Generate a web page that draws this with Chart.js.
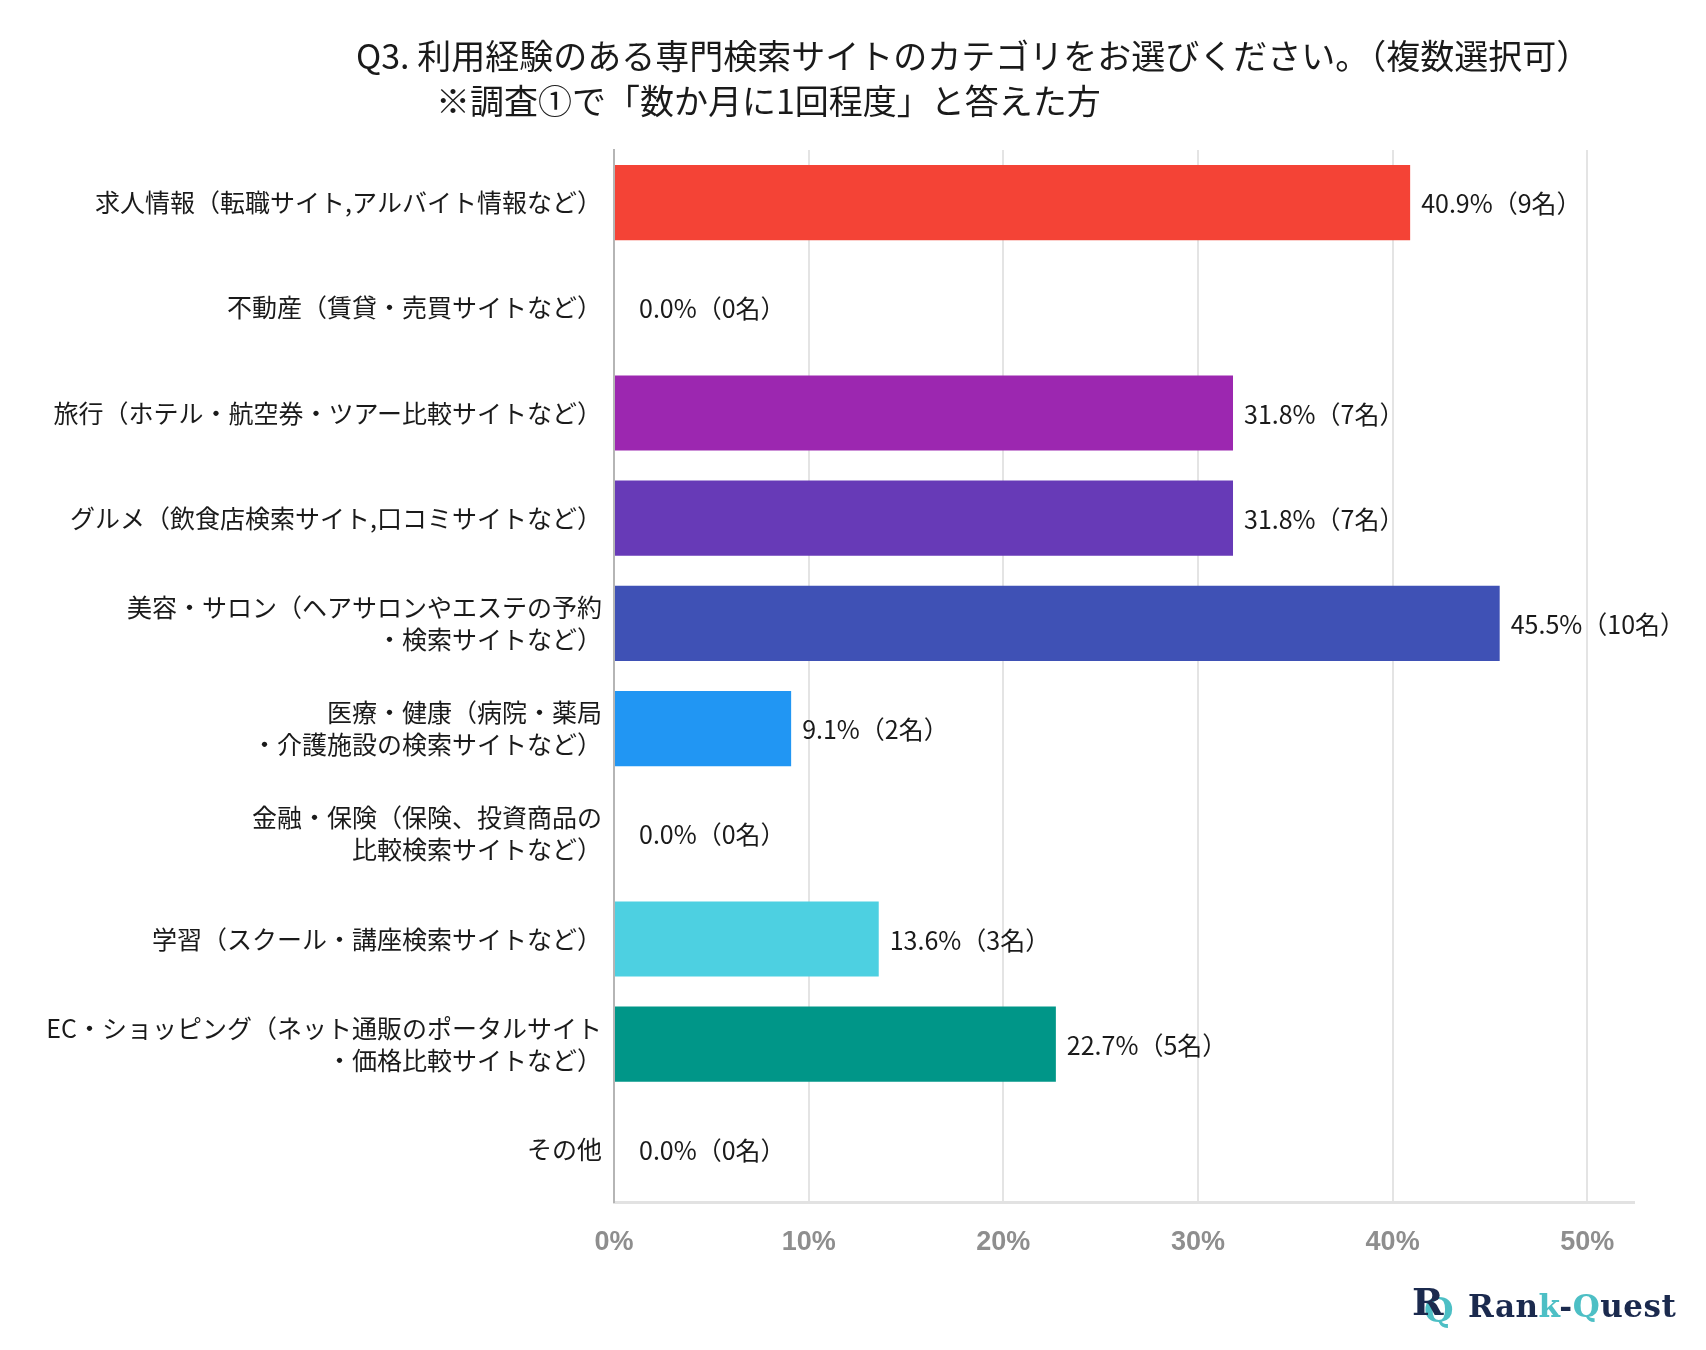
<!DOCTYPE html>
<html lang="ja">
<head>
<meta charset="utf-8">
<title>Q3 専門検索サイトのカテゴリ</title>
<script src="https://cdn.jsdelivr.net/npm/chart.js@4.4.1/dist/chart.umd.min.js"></script>
<style>
  html, body { margin: 0; padding: 0; background: #fff; }
  #wrap { position: relative; width: 1706px; height: 1350px; }
  .title { position: absolute; font-family: "Noto Sans CJK JP", sans-serif; font-size: 34px; line-height: 34px; color: #1a1a1a; white-space: nowrap; }
  #logo { position: absolute; left: 1410px; top: 1283px; height: 46px; display: flex; align-items: center; white-space: nowrap; }
  #logo .icon { font-family: "DejaVu Serif", serif; font-weight: bold; line-height: 1; position: relative; width: 58px; height: 46px; }
  #logo .icon b { position: absolute; left: 2px; top: 0; font-size: 38px; color: #1b2a4e; }
  #logo .icon span { position: absolute; left: 14px; top: 10px; color: #4dbfc5; font-size: 34px; }
  #logo .txt { font-family: "DejaVu Serif", "Liberation Serif", serif; font-weight: bold; font-size: 31px; color: #1b2a4e; letter-spacing: 0.5px; }
  #logo .teal { color: #4dbfc5; }
</style>
</head>
<body>
<div id="wrap">
  <canvas id="chart"></canvas>
  <div class="title" style="left:356px; top:38px;">Q3. 利用経験のある専門検索サイトのカテゴリをお選びください。（複数選択可）</div>
  <div class="title" style="left:436px; top:83px;">※調査①で「数か月に1回程度」と答えた方</div>
  <div id="logo"><div class="icon"><span>Q</span><b>R</b></div><div class="txt">Ran<span class="teal">k</span>-<span class="teal">Q</span>uest</div></div>
</div>
<script>
const categories = [
  '求人情報（転職サイト,アルバイト情報など）',
  '不動産（賃貸・売買サイトなど）',
  '旅行（ホテル・航空券・ツアー比較サイトなど）',
  'グルメ（飲食店検索サイト,口コミサイトなど）',
  ['美容・サロン（ヘアサロンやエステの予約', '・検索サイトなど）'],
  ['医療・健康（病院・薬局', '・介護施設の検索サイトなど）'],
  ['金融・保険（保険、投資商品の', '比較検索サイトなど）'],
  '学習（スクール・講座検索サイトなど）',
  ['EC・ショッピング（ネット通販のポータルサイト', '・価格比較サイトなど）'],
  'その他'
];
const percents = [40.9, 0.0, 31.8, 31.8, 45.5, 9.1, 0.0, 13.6, 22.7, 0.0];
const counts = [9, 0, 7, 7, 10, 2, 0, 3, 5, 0];
const barColors = ['#f44336', '#e91e63', '#9c27b0', '#673ab7', '#3f51b5', '#2196f3', '#03a9f4', '#4dd0e1', '#009688', '#4caf50'];
const xTicks = [0, 10, 20, 30, 40, 50];

// 棒の右に「40.9%（9名）」を描く
const valueLabels = {
  id: 'valueLabels',
  afterDatasetsDraw(chart){
    const ctx = chart.ctx;
    const meta = chart.getDatasetMeta(0);
    ctx.save();
    ctx.font = '25px "Noto Sans CJK JP", sans-serif';
    ctx.fillStyle = '#1a1a1a';
    ctx.textBaseline = 'middle';
    ctx.textAlign = 'left';
    meta.data.forEach((bar, i) => {
      const v = percents[i];
      const off = v === 0 ? 25 : 11;
      ctx.fillText(v.toFixed(1) + '%（' + counts[i] + '名）', bar.x + off, bar.y + 1);
    });
    ctx.restore();
  }
};

const ctx = document.getElementById('chart').getContext('2d');
new Chart(ctx, {
  type: 'bar',
  data: {
    labels: categories,
    datasets: [{
      data: percents,
      backgroundColor: barColors,
      barPercentage: 0.715,
      categoryPercentage: 1.0
    }]
  },
  options: {
    indexAxis: 'y',
    responsive: true,
    maintainAspectRatio: false,
    animation: false,
    devicePixelRatio: 1,
    layout: { padding: { left: 0, top: 150, right: 72, bottom: 68 } },
    plugins: {
      legend: { display: false },
      tooltip: { enabled: false }
    },
    scales: {
      x: {
        min: 0,
        max: 52.4,
        afterFit(scale){ scale.height = 80; },
        afterBuildTicks(scale){ scale.ticks = xTicks.map(v => ({ value: v })); },
        grid: { color: '#e4e4e4', lineWidth: 2, drawTicks: false },
        border: { color: '#e2e2e2', width: 3 },
        ticks: {
          padding: 24,
          color: '#8e8e8e',
          font: { family: '"Liberation Sans", Arial, sans-serif', size: 27, weight: 'bold' },
          callback: v => v + '%'
        }
      },
      y: {
        afterFit(scale){ scale.width = 614; },
        grid: { display: false, drawTicks: false },
        border: { color: '#b5b5b5', width: 2 },
        ticks: {
          padding: 12,
          color: '#1a1a1a',
          font: { family: '"Noto Sans CJK JP", sans-serif', size: 25, lineHeight: 1.28 }
        }
      }
    }
  },
  plugins: [valueLabels]
});
</script>
</body>
</html>
